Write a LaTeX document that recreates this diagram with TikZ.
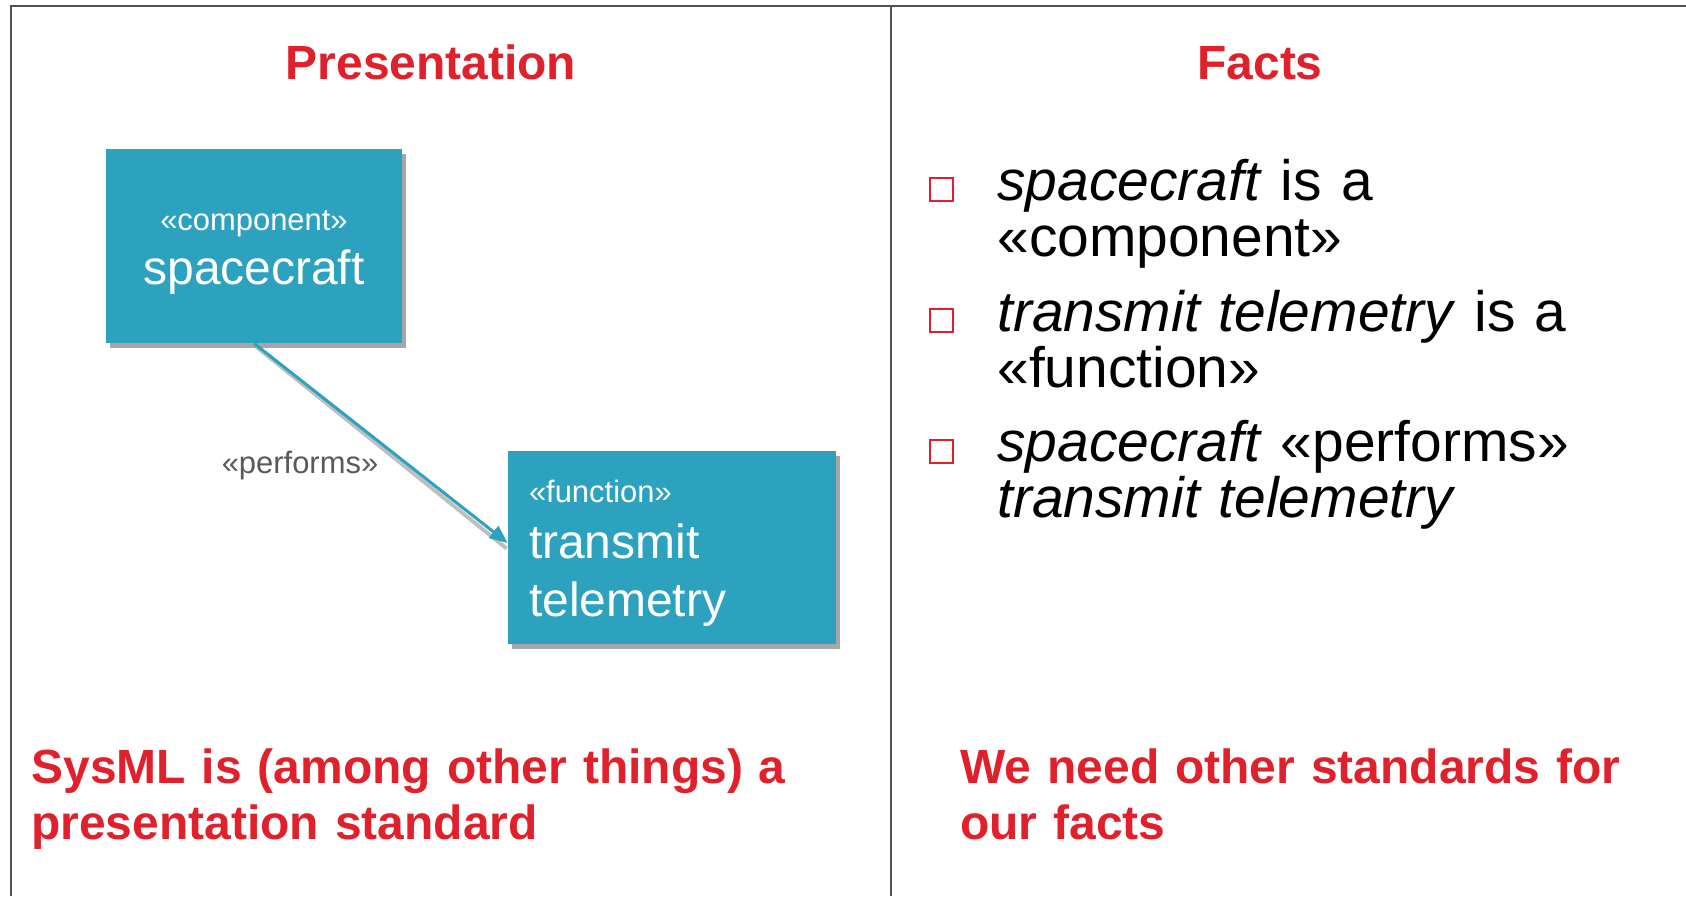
\documentclass[tikz,border=0pt]{standalone}
\usepackage{fontspec}
\setmainfont{Liberation Sans}
\usetikzlibrary{arrows.meta,positioning,shadows}
\definecolor{systeal}{HTML}{2CA2BF}
\definecolor{sysred}{HTML}{E0202B}
\definecolor{framegray}{HTML}{505050}
\newcommand{\pxfont}[2]{\fontsize{#1}{#2}\selectfont}

\begin{document}
\begin{tikzpicture}[
  blk/.style={fill=systeal, text=white, inner sep=0pt,
              drop shadow={shadow xshift=0.07cm, shadow yshift=-0.09cm, fill=black, opacity=0.35}},
  ttl/.style={text=sysred, font=\pxfont{27.3}{31.9}\bfseries, anchor=base, inner sep=0pt},
  msg/.style={text=sysred, font=\pxfont{27.3}{31.9}\bfseries, anchor=base west, inner sep=0pt,
              text width=20cm, align=left},
  bulletbox/.style={draw=sysred, line width=0.04cm, minimum size=0.46cm, inner sep=0pt},
  fact/.style={font=\pxfont{32.4}{31.9}, anchor=base west, inner sep=0pt, text width=13cm, align=left},
  ar/.style={-{Triangle[length=3.6mm, width=3mm]}, systeal, line width=0.06cm},
  arsh/.style={black!25, line width=0.08cm},
  frm/.style={framegray, line width=0.04cm},
]
\useasboundingbox (0,0) rectangle (33.72,-17.92);

% ---- frame ----------------------------------------------------------------
\draw[frm] (0.22,-17.92) -- (0.22,-0.12) -- (33.72,-0.12);
\draw[frm] (17.82,-0.12) -- (17.82,-17.92);

% ---- presentation side ----------------------------------------------------
\node[ttl] (pres) at (8.62,-1.58) {Presentation};
\node[blk, minimum width=5.92cm, minimum height=3.88cm, text width=5.92cm, align=center,
      font=\pxfont{27.3}{30.5}] (craft) at (5.08,-4.92)
  {\rule{0pt}{19pt}{\pxfont{17.6}{20}«component»}\\ spacecraft};
\node[blk, minimum width=6.56cm, minimum height=3.86cm, text width=5.72cm, align=left,
      font=\pxfont{27.3}{33}] (tele) at (13.44,-10.95)
  {\rule{0pt}{19pt}{\pxfont{17.6}{20}«function»}\\[-1.3pt] transmit\\ telemetry};
\draw[arsh] ([shift={(0.05,-0.07)}]craft.south) -- ([shift={(-0.02,-0.02)}]tele.west);
\draw[ar] (craft.south) -- ([yshift=0.09cm]tele.west);
\node[font=\pxfont{17.6}{20}, text=black!65, anchor=base, inner sep=0pt] (perf) at (6.0,-9.46) {«performs»};
\node[msg] (sysml) at (0.62,-15.66) {SysML is (among other things) a\\ presentation standard};

% ---- facts side -----------------------------------------------------------
\node[ttl] (facts) at (25.2,-1.58) {Facts};
\foreach \n/\y in {1/-3.79, 2/-6.41, 3/-9.02}
  \node[bulletbox] (b\n) at (18.83,\y) {};
\node[fact] (f1) at (19.94,-4.0)  {\textit{spacecraft} is a\\ «component»};
\node[fact] (f2) at (19.94,-6.62) {\textit{transmit telemetry} is a\\ «function»};
\node[fact] (f3) at (19.94,-9.22) {\textit{spacecraft} «performs»\\ \textit{transmit telemetry}};
\node[msg] (need) at (19.2,-15.66) {We need other standards for\\ our facts};

\end{tikzpicture}
\end{document}
